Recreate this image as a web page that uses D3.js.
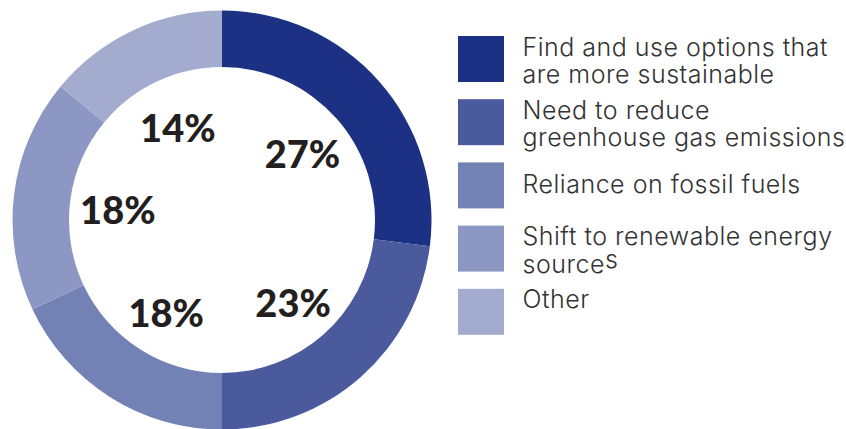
<!DOCTYPE html>
<html>
<head>
<meta charset="utf-8">
<script src="https://cdn.jsdelivr.net/npm/d3@7"></script>
<style>
  body { margin: 0; background: #fff; }
  svg { display: block; }
</style>
</head>
<body>
<div id="chart"></div>
<script>
// データ
var categories = [
    "Find and use options that are more sustainable",
    "Need to reduce greenhouse gas emissions",
    "Reliance on fossil fuels",
    "Shift to renewable energy sources",
    "Other"
];
var values = [27, 23, 18, 18, 14];
var labels = ["27%", "23%", "18%", "18%", "14%"];
var legendLines = [
    ["Find and use options that", "are more sustainable"],
    ["Need to reduce", "greenhouse gas emissions"],
    ["Reliance on fossil fuels"],
    ["Shift to renewable energy", "source", "s"],
    ["Other"]
];
var colors = ["#1c3184", "#4a5a9d", "#7382b4", "#8c97c4", "#a3acce"];

var width = 846;
var height = 429;
var cx = 222, cy = 220;
var R_OUT = 209.5, R_IN = 153, R_LABEL = 106;

var svg = d3.select("#chart")
    .append("svg")
    .attr("width", width)
    .attr("height", height);

var pie = d3.pie().sort(null).value(function (d) { return d; });
var arcs = pie(values);
var arc = d3.arc().innerRadius(R_IN).outerRadius(R_OUT);
var labelArc = d3.arc().innerRadius(R_LABEL).outerRadius(R_LABEL);

var g = svg.append("g")
    .attr("transform", "translate(" + cx + "," + cy + ")");

// ドーナツ
g.selectAll("path")
    .data(arcs)
    .enter()
    .append("path")
    .attr("d", arc)
    .attr("fill", function (d, i) { return colors[i]; });

// パーセント
g.selectAll("text.pct")
    .data(arcs)
    .enter()
    .append("text")
    .attr("class", "pct")
    .attr("transform", function (d) {
        var c = labelArc.centroid(d);
        return "translate(" + (c[0] + 1) + "," + (c[1] + 4) + ")";
    })
    .attr("text-anchor", "middle")
    .attr("dy", "0.36em")
    .style("font-family", "Lato, 'Open Sans', sans-serif")
    .style("font-weight", "900")
    .style("font-size", "38px")
    .style("fill", "#231f20")
    .text(function (d, i) { return labels[i]; });

// 凡例
var LEG_X = 458, LEG_Y = 36, LEG_STEP = 63.2, SW = 46;
var legend = svg.append("g");
var items = legend.selectAll("g")
    .data(categories)
    .enter()
    .append("g")
    .attr("transform", function (d, i) {
        return "translate(" + LEG_X + "," + (LEG_Y + i * LEG_STEP) + ")";
    });

items.append("rect")
    .attr("width", SW)
    .attr("height", SW)
    .attr("fill", function (d, i) { return colors[i]; });

items.append("text")
    .attr("x", 64.5)
    .attr("y", function (d, i) {
        return (legendLines[i].length == 1 && i < categories.length - 1) ? 31 : 19.5;
    })
    .style("font-family", "Inter, 'Noto Sans', sans-serif")
    .style("font-weight", "300")
    .style("font-size", "25px")
    .style("letter-spacing", "0.5px")
    .style("fill", "#333")
    .each(function (d, i) {
        var t = d3.select(this);
        var lines = legendLines[i];
        t.append("tspan").attr("x", 64.5).text(lines[0]);
        if (lines.length > 1) {
            t.append("tspan").attr("x", 64.5).attr("dy", 27.5).text(lines[1]);
        }
        if (lines.length > 2) {
            t.append("tspan").attr("dy", -5).text(lines[2]);
        }
    });
</script>
</body>
</html>
